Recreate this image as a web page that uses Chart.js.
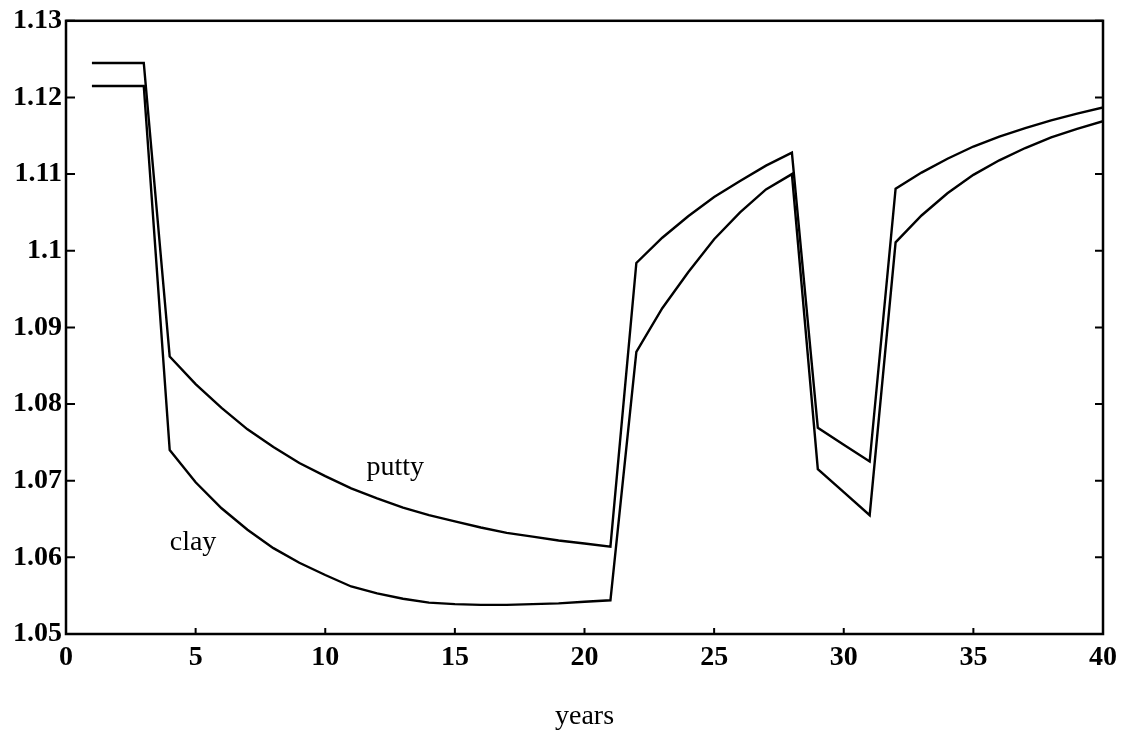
<!DOCTYPE html>
<html>
<head>
<meta charset="utf-8">
<script src="https://cdn.jsdelivr.net/npm/chart.js@4/dist/chart.umd.min.js"></script>
<style>
  html, body { margin: 0; padding: 0; background: #fff; }
  #wrap { width: 1124px; height: 733px; }
</style>
</head>
<body>
<div id="wrap"><canvas id="chart"></canvas></div>
<script>
// years on the horizontal axis
const years = [1, 2, 3, 4, 5, 6, 7, 8, 9, 10, 11, 12, 13, 14, 15, 16, 17, 18, 19, 20,
               21, 22, 23, 24, 25, 26, 27, 28, 29, 30, 31, 32, 33, 34, 35, 36, 37, 38, 39, 40];

const putty = [1.1245, 1.1245, 1.1245, 1.0862, 1.0826, 1.0795, 1.0767, 1.0744, 1.0723, 1.0706,
               1.0690, 1.0677, 1.0665, 1.0655, 1.0647, 1.0639, 1.0632, 1.0627, 1.0622, 1.0618,
               1.0614, 1.0984, 1.1017, 1.1045, 1.1070, 1.1091, 1.1111, 1.1128, 1.0769, 1.0747,
               1.0725, 1.1081, 1.1102, 1.1120, 1.1136, 1.1149, 1.1160, 1.1170, 1.1179, 1.1187];

const clay = [1.1215, 1.1215, 1.1215, 1.0740, 1.0698, 1.0664, 1.0636, 1.0612, 1.0593, 1.0577,
              1.0562, 1.0553, 1.0546, 1.0541, 1.0539, 1.0538, 1.0538, 1.0539, 1.0540, 1.0542,
              1.0544, 1.0868, 1.0925, 1.0972, 1.1015, 1.1050, 1.1080, 1.1100, 1.0715, 1.0685,
              1.0655, 1.1011, 1.1046, 1.1075, 1.1099, 1.1118, 1.1134, 1.1148, 1.1159, 1.1169];

const xTicks = [0, 5, 10, 15, 20, 25, 30, 35, 40];
const yTicks = [1.05, 1.06, 1.07, 1.08, 1.09, 1.1, 1.11, 1.12, 1.13];

const FONT = '"Liberation Serif", "DejaVu Serif", serif';

// box round the plot, inward ticks, and the curve names
const framePlugin = {
    id: 'frame',
    afterDraw: (chart) => {
        const { ctx, chartArea: a, scales: { x, y } } = chart;
        ctx.save();
        ctx.strokeStyle = '#000';
        ctx.lineWidth = 2.5;
        ctx.strokeRect(a.left, a.top, a.right - a.left, a.bottom - a.top);

        ctx.lineWidth = 2;
        ctx.beginPath();
        yTicks.forEach(v => {
            const py = y.getPixelForValue(v);
            ctx.moveTo(a.left, py); ctx.lineTo(a.left + 9, py);
            ctx.moveTo(a.right, py); ctx.lineTo(a.right - 8, py);
        });
        xTicks.forEach(v => {
            const px = x.getPixelForValue(v);
            ctx.moveTo(px, a.bottom); ctx.lineTo(px, a.bottom - 6);
        });
        ctx.stroke();

        ctx.fillStyle = '#000';
        ctx.font = '28px ' + FONT;
        ctx.textAlign = 'center';
        ctx.textBaseline = 'middle';
        ctx.fillText('putty', x.getPixelForValue(12.7), y.getPixelForValue(1.0717));
        ctx.fillText('clay', x.getPixelForValue(4.9), y.getPixelForValue(1.0619));
        ctx.restore();
    }
};

const ctx = document.getElementById('chart').getContext('2d');
new Chart(ctx, {
    type: 'line',
    data: {
        labels: years,
        datasets: [
            {
                label: 'putty',
                data: years.map((yr, i) => ({ x: yr, y: putty[i] })),
                borderColor: '#000',
                borderWidth: 2.4,
                pointRadius: 0,
                tension: 0,
                fill: false
            },
            {
                label: 'clay',
                data: years.map((yr, i) => ({ x: yr, y: clay[i] })),
                borderColor: '#000',
                borderWidth: 2.4,
                pointRadius: 0,
                tension: 0,
                fill: false
            }
        ]
    },
    options: {
        responsive: true,
        maintainAspectRatio: false,
        animation: false,
        layout: { padding: { left: 0, right: 20, top: 18, bottom: 0 } },
        plugins: {
            legend: { display: false },
            tooltip: { enabled: false }
        },
        scales: {
            x: {
                type: 'linear',
                min: 0,
                max: 40,
                afterBuildTicks: s => { s.ticks = xTicks.map(v => ({ value: v })); },
                afterFit: s => { s.height = 99; },
                grid: { display: false, drawTicks: false },
                border: { display: false },
                ticks: {
                    color: '#000',
                    padding: 7,
                    maxRotation: 0,
                    font: { family: FONT, size: 28, weight: 'bold' },
                    callback: v => String(v)
                },
                title: {
                    display: true,
                    text: 'years',
                    color: '#000',
                    padding: { top: 0, bottom: 0 },
                    font: { family: FONT, size: 28 }
                }
            },
            y: {
                type: 'linear',
                min: 1.05,
                max: 1.13,
                afterBuildTicks: s => { s.ticks = yTicks.map(v => ({ value: v })); },
                afterFit: s => { s.width = 66; },
                grid: { display: false, drawTicks: false },
                border: { display: false },
                ticks: {
                    color: '#000',
                    padding: 4,
                    font: { family: FONT, size: 28, weight: 'bold' },
                    callback: v => String(Number(v.toFixed(2)))
                }
            }
        }
    },
    plugins: [framePlugin]
});
</script>
</body>
</html>
